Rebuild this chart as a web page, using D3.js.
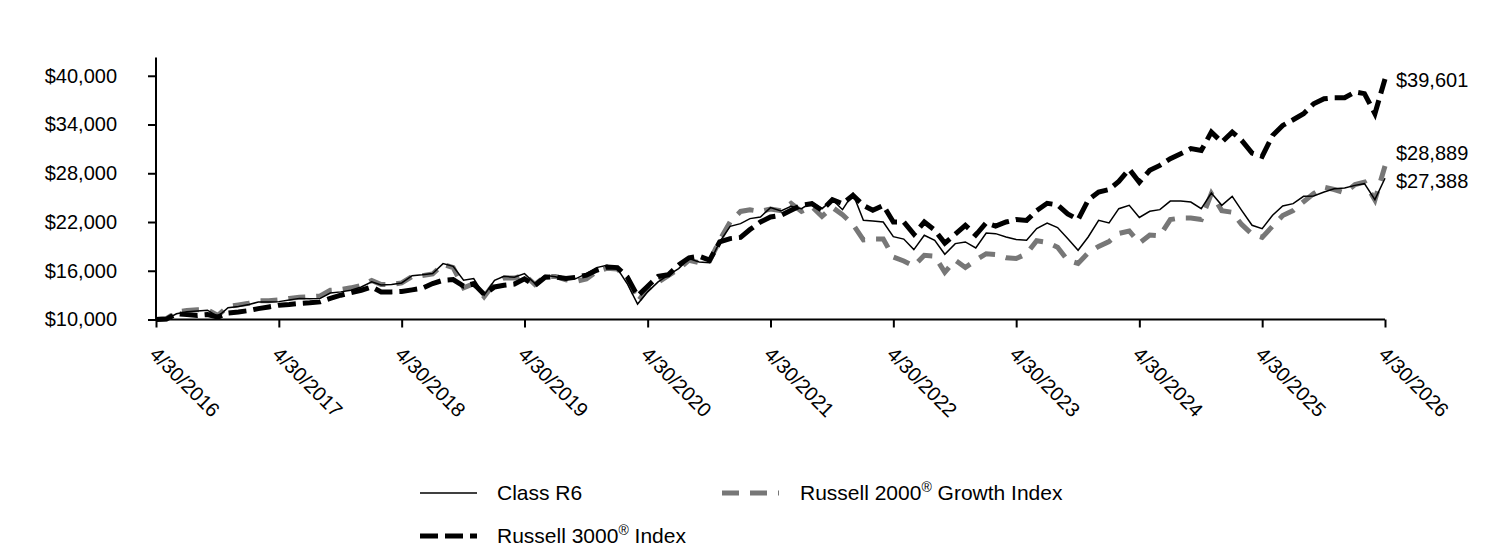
<!DOCTYPE html>
<html>
<head>
<meta charset="utf-8">
<script src="https://cdn.jsdelivr.net/npm/d3@7"></script>
<style>
  body { margin: 0; background: #fff; }
  text { font-family: "Liberation Sans", Arial, sans-serif; fill: #000; }
</style>
</head>
<body>
<script>
// monthly values, 4/30/2016 .. 4/30/2026
var classR6 = [10000,10050,10700,10950,11050,11150,10350,11450,11600,11850,12150,12150,12200,12400,12600,12550,12600,13250,13400,13600,14000,14650,14250,14300,14500,
  15400,15500,15650,16880,16550,14830,15040,12990,14830,15320,15200,15650,14430,15450,15250,14920,15040,15650,16390,16670,16260,14430,11900,13400,
  14630,15450,16270,17500,17090,17000,19550,21470,21800,22420,22620,23770,23360,23930,23640,24460,23640,24750,23520,25490,22210,22130,22000,20200,
  19900,18600,20370,19750,18030,19340,19550,18810,20650,20570,20160,19840,19750,21190,21880,21320,19960,18520,20160,22210,21880,23640,24050,22560,
  23320,23520,24580,24580,24460,23640,25570,24050,25160,23440,21600,21190,22830,23970,24260,25160,25200,25690,26100,26180,26510,26720,24750,27388];

var russell2000g = [10000,10100,10900,11100,11200,11200,10500,11600,11800,12000,12300,12300,12400,12600,12750,12800,12900,13600,13700,13900,14200,14800,14300,14300,14500,
  15300,15400,15600,16800,16400,13900,14400,12800,14500,15100,15100,15500,14300,15300,15300,14900,14700,15000,15900,16300,16200,15200,12200,13800,
  14600,15400,16200,17300,17000,17200,19750,22000,23300,23500,23300,23600,23400,24300,23300,23900,22700,23800,22900,21700,19800,19900,19900,17700,
  17200,16600,17900,17800,15800,17300,16400,17300,18100,18000,17600,17500,18100,19700,19500,18900,17300,16900,18200,19000,19600,20600,20900,19400,
  20400,20300,22300,22500,22500,22300,25500,23400,23200,21700,20500,20100,21500,22800,23400,24500,25500,26300,26000,25600,26600,26900,24700,28889];

var russell3000 = [10000,10050,10700,10600,10500,10600,10300,10800,10930,11100,11340,11550,11760,11850,11970,12050,12170,12600,12990,13300,13600,14010,13400,13400,13450,
  13650,13850,14430,14830,14920,14100,14400,13100,14010,14210,14360,15000,14200,15200,15250,15040,15200,15450,16060,16470,16390,15250,12900,14100,
  15300,15500,16700,17600,17800,17300,19550,19960,20100,21070,22000,22620,22830,23440,24050,24250,23440,24750,24250,25280,24050,23440,24050,22000,
  22000,20500,22000,21000,19400,20500,21600,20400,21900,21500,22000,22300,22200,23400,24300,24100,23000,22300,24700,25700,26000,27000,28500,26900,
  28360,28970,29800,30410,31030,30800,33070,31840,33070,32050,30490,30080,32660,33890,34590,35330,36560,37170,37290,37290,38000,37800,35330,39601];

var yTicks = [10000, 16000, 22000, 28000, 34000, 40000];
var xTickLabels = ["4/30/2016","4/30/2017","4/30/2018","4/30/2019","4/30/2020","4/30/2021","4/30/2022","4/30/2023","4/30/2024","4/30/2025","4/30/2026"];
var endLabels = ["$39,601", "$28,889", "$27,388"];

var w = 1512, h = 552;
var plotLeft = 156, plotRight = 1385, plotTop = 57.5, plotBottom = 319.5;

var dates = d3.range(classR6.length).map(function(i){ return new Date(2016, 4 + i, 0); });
var tickDates = d3.range(xTickLabels.length).map(function(i){ return new Date(2016 + i, 3, 30); });

var svg = d3.select("body").append("svg")
  .attr("width", w).attr("height", h);

var x = d3.scaleTime()
  .domain([dates[0], dates[dates.length - 1]])
  .range([plotLeft, plotRight]);

var y = d3.scaleLinear()
  .domain([10000, 42250])
  .range([plotBottom, plotTop]);

// y axis
var yAxis = d3.axisLeft(y)
  .tickValues(yTicks)
  .tickSize(8)
  .tickPadding(31)
  .tickFormat(function(d){ return "$" + d3.format(",")(d); });

var gy = svg.append("g")
  .attr("transform", "translate(" + plotLeft + ",0)")
  .call(yAxis);
gy.select(".domain").attr("stroke", "#000").attr("stroke-width", 2).attr("d", "M0," + plotTop + "V" + plotBottom);
gy.selectAll(".tick line").attr("stroke", "#000").attr("stroke-width", 2);
gy.selectAll(".tick text").attr("font-size", 20).attr("font-family", "Liberation Sans, Arial, sans-serif");

// x axis
var xAxis = d3.axisBottom(x)
  .tickValues(tickDates)
  .tickSize(8)
  .tickFormat(function(d, i){ return xTickLabels[i]; });

var gx = svg.append("g")
  .attr("transform", "translate(0," + plotBottom + ")")
  .call(xAxis);
gx.select(".domain").attr("stroke", "#000").attr("stroke-width", 2).attr("d", "M" + plotLeft + ",0H" + plotRight);
gx.selectAll(".tick line").attr("stroke", "#000").attr("stroke-width", 2);
gx.selectAll(".tick text")
  .attr("font-size", 20)
  .attr("font-family", "Liberation Sans, Arial, sans-serif")
  .attr("text-anchor", "start")
  .attr("x", 0).attr("y", 0).attr("dy", "0.71em")
  .attr("transform", "translate(2,26) rotate(45)");

// lines
var line = function(vals){
  return d3.line()
    .x(function(d, i){ return x(dates[i]); })
    .y(function(d){ return y(d); })(vals);
};

svg.append("path")
  .attr("d", line(russell2000g))
  .attr("fill", "none")
  .attr("stroke", "#777")
  .attr("stroke-width", 5)
  .attr("stroke-dasharray", "17,11");

svg.append("path")
  .attr("d", line(russell3000))
  .attr("fill", "none")
  .attr("stroke", "#000")
  .attr("stroke-width", 5)
  .attr("stroke-dasharray", "18,7");

svg.append("path")
  .attr("d", line(classR6))
  .attr("fill", "none")
  .attr("stroke", "#000")
  .attr("stroke-width", 1.5);

// end labels
var endY = [80, 153, 181];
svg.selectAll(".endlabel")
  .data(endLabels)
  .enter().append("text")
  .attr("class", "endlabel")
  .attr("x", 1396)
  .attr("y", function(d, i){ return endY[i]; })
  .attr("dy", "0.35em")
  .attr("font-size", 20)
  .text(function(d){ return d; });

// legend
var legend = [
  {name: "Class R6", x: 420, y: 493, color: "#000", width: 1.5, dash: null},
  {name: "Russell 2000", x: 722, y: 493, color: "#777", width: 5, dash: "17,11"},
  {name: "Russell 3000", x: 420, y: 536, color: "#000", width: 5, dash: "18,7"}
];
var lg = svg.selectAll(".legend").data(legend).enter().append("g")
  .attr("class", "legend")
  .attr("transform", function(d){ return "translate(" + d.x + "," + d.y + ")"; });
lg.append("line")
  .attr("x1", 0).attr("x2", 57).attr("y1", 0).attr("y2", 0)
  .attr("stroke", function(d){ return d.color; })
  .attr("stroke-width", function(d){ return d.width; })
  .attr("stroke-dasharray", function(d){ return d.dash; });
var lt = lg.append("text")
  .attr("x", function(d){ return d.name === "Russell 2000" ? 78 : 77; })
  .attr("y", 0).attr("dy", "0.35em")
  .attr("font-size", 21);
lt.each(function(d){
  var t = d3.select(this);
  if (d.name === "Class R6") { t.text("Class R6"); return; }
  var parts = d.name === "Russell 2000" ? ["Russell 2000", " Growth Index"] : ["Russell 3000", " Index"];
  t.append("tspan").text(parts[0]);
  t.append("tspan").attr("font-size", 14).attr("baseline-shift", "super").text("®");
  t.append("tspan").text(parts[1]);
});
</script>
</body>
</html>
